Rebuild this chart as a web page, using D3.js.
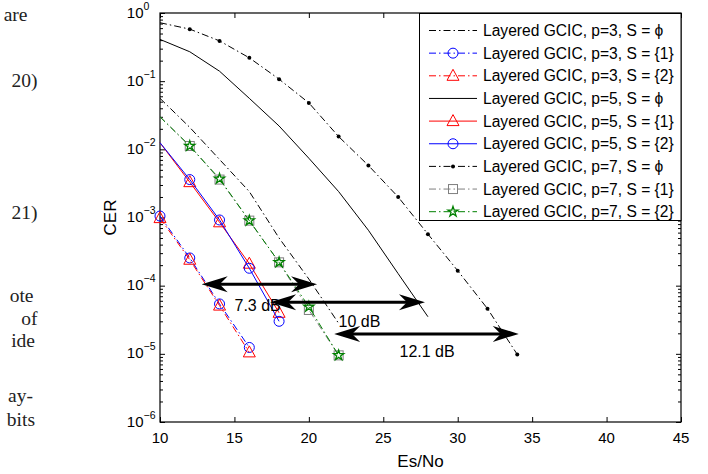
<!DOCTYPE html>
<html>
<head>
<meta charset="utf-8">
<script src="https://cdn.jsdelivr.net/npm/d3@7"></script>
<style>
  html, body { margin: 0; padding: 0; background: #fff; }
  svg { display: block; }
  .sans { font-family: "Liberation Sans", Arial, Helvetica, sans-serif; }
  .serif { font-family: "Liberation Serif", "Times New Roman", serif; fill: #222; }
</style>
</head>
<body>
<svg id="chart" width="708" height="474"></svg>
<script>
// CER vs Es/No, layered GCIC
var xTicks = [10, 15, 20, 25, 30, 35, 40, 45];
var yTickExp = [0, -1, -2, -3, -4, -5, -6];

var legendLabels = [
  'Layered GCIC, p=3, S = \u03d5',
  'Layered GCIC, p=3, S = {1}',
  'Layered GCIC, p=3, S = {2}',
  'Layered GCIC, p=5, S = \u03d5',
  'Layered GCIC, p=5, S = {1}',
  'Layered GCIC, p=5, S = {2}',
  'Layered GCIC, p=7, S = \u03d5',
  'Layered GCIC, p=7, S = {1}',
  'Layered GCIC, p=7, S = {2}'
];

var snrA = [10, 12, 14, 16];
var snrB = [10, 12, 14, 16, 18];
var snrC = [10, 12, 14, 16, 18, 20, 22];
var snrD = [10, 12, 14, 16, 18, 20, 22, 24, 26, 28];
var snrE = [10, 12, 14, 16, 18, 20, 22, 24, 26, 28, 30, 32, 34];

var p3Phi = [0.056, 0.021, 7.1e-3, 2.4e-3, 5.0e-4, 1.25e-4, 2.8e-5];
var p3S1 = [1.05e-3, 2.55e-4, 5.4e-5, 1.24e-5];
var p3S2 = [9.8e-4, 2.4e-4, 5.1e-5, 1.05e-5];
var p5Phi = [0.41, 0.27, 0.14, 0.056, 0.022, 7.4e-3, 2.4e-3, 6.5e-4, 1.5e-4, 3.5e-5];
var p5S1 = [0.0125, 3.3e-3, 8.5e-4, 2.1e-4, 4.0e-5];
var p5S2 = [0.0125, 3.6e-3, 9.2e-4, 1.8e-4, 3.0e-5];
var p7Phi = [0.72, 0.58, 0.39, 0.22, 0.107, 0.048, 0.0154, 5.8e-3, 2.0e-3, 5.7e-4, 1.66e-4, 4.6e-5, 9.8e-6];
var p7S1 = [0.030, 0.0112, 3.6e-3, 9.0e-4, 2.2e-4, 4.4e-5, 9.5e-6];
var p7S2 = [0.030, 0.0112, 3.7e-3, 9.0e-4, 2.2e-4, 4.9e-5, 9.5e-6];

// gain arrows: from, to, CER level, label
var arrowFrom = [12.8, 17.4, 21.7];
var arrowTo = [20.55, 27.8, 34.1];
var arrowCer = [1.05e-4, 5.7e-5, 1.96e-5];
var arrowLabels = ['7.3 dB', '10 dB', '12.1 dB'];

// clipped paper text on the left
var sideText = ['are', '20)', '21)', 'ote', 'of', 'ide', 'ay-', 'bits'];

var DASHDOT = '7,3,1.5,3';
var series = [
  {x: snrC, y: p3Phi, color: '#000', dash: DASHDOT, mark: null},
  {x: snrA, y: p3S1, color: '#0000ff', dash: DASHDOT, mark: 'circle'},
  {x: snrA, y: p3S2, color: '#ff0000', dash: DASHDOT, mark: 'triangle'},
  {x: snrD, y: p5Phi, color: '#000', dash: null, mark: null},
  {x: snrB, y: p5S1, color: '#ff0000', dash: null, mark: 'triangle', skip: 1},
  {x: snrB, y: p5S2, color: '#0000ff', dash: null, mark: 'circle', skip: 1},
  {x: snrE, y: p7Phi, color: '#000', dash: DASHDOT, mark: 'dot', skip: 1},
  {x: snrC, y: p7S1, color: '#7f7f7f', dash: DASHDOT, mark: 'square', skip: 1},
  {x: snrC, y: p7S2, color: '#008000', dash: DASHDOT, mark: 'star', skip: 1}
];

var L = 160, R = 681, T = 13, B = 422;
var svg = d3.select('#chart');

var x = d3.scaleLinear().domain([10, 45]).range([L, R]);
var y = d3.scaleLog().domain([1e-6, 1]).range([B, T]);

// left column text
svg.append('g').attr('class', 'serif').style('font-size', '19.5px')
  .selectAll('text').data(sideText).enter().append('text')
    .attr('x', function(d, i) { return [27.5, 37.5, 37.5, 33.5, 37.5, 35, 33, 35][i]; })
    .attr('y', function(d, i) { return [21, 87, 219, 302, 324.5, 347, 402, 426][i]; })
    .attr('text-anchor', 'end')
    .text(function(d) { return d; });

var g = svg.append('g').attr('class', 'sans');

// ticks (inward, all four sides)
var yMinor = y.ticks().filter(function(v) {
  return Math.abs(Math.log10(v) - Math.round(Math.log10(v))) > 1e-6;
});
var yMajor = yTickExp.map(function(e) { return Math.pow(10, e); });

g.append('g').attr('transform', 'translate(0,' + B + ')')
  .call(d3.axisBottom(x).tickValues(xTicks).tickSizeInner(-5).tickSizeOuter(0).tickFormat(''));
g.append('g').attr('transform', 'translate(0,' + T + ')')
  .call(d3.axisTop(x).tickValues(xTicks).tickSizeInner(-5).tickSizeOuter(0).tickFormat(''));
[[L, d3.axisLeft], [R, d3.axisRight]].forEach(function(side) {
  g.append('g').attr('transform', 'translate(' + side[0] + ',0)')
    .call(side[1](y).tickValues(yMajor).tickSizeInner(-5).tickSizeOuter(0).tickFormat(''));
  g.append('g').attr('transform', 'translate(' + side[0] + ',0)')
    .call(side[1](y).tickValues(yMinor).tickSizeInner(-3).tickSizeOuter(0).tickFormat(''));
});
g.selectAll('.domain').remove();
g.selectAll('.tick line').attr('stroke', '#000');

g.append('rect')
  .attr('x', L).attr('y', T).attr('width', R - L).attr('height', B - T)
  .attr('fill', 'none').attr('stroke', '#000').attr('stroke-width', 1.2);

// tick labels
g.selectAll('.xlab').data(xTicks).enter().append('text')
  .attr('x', function(d) { return x(d); })
  .attr('y', B + 21)
  .attr('text-anchor', 'middle')
  .style('font-size', '15px')
  .text(function(d) { return d; });

var ylab = g.selectAll('.ylab').data(yTickExp).enter().append('g');
ylab.append('text')
  .attr('x', 143.5)
  .attr('y', function(d) { return y(Math.pow(10, d)) + 4.5; })
  .attr('text-anchor', 'end')
  .style('font-size', '15px')
  .text('10');
ylab.append('text')
  .attr('x', 143.5)
  .attr('y', function(d) { return y(Math.pow(10, d)) - 3.5; })
  .style('font-size', '10.5px')
  .text(function(d) { return d === 0 ? '0' : '\u2212' + (-d); });

g.append('text')
  .attr('x', (L + R) / 2).attr('y', B + 45)
  .attr('text-anchor', 'middle')
  .style('font-size', '17px')
  .text('Es/No');
g.append('text')
  .attr('transform', 'translate(116,' + (T + B) / 2 + ') rotate(-90)')
  .attr('text-anchor', 'middle')
  .style('font-size', '17px')
  .text('CER');

// markers
function drawMark(sel, type, color) {
  if (type === 'circle') {
    sel.append('circle').attr('r', 5).attr('fill', 'none').attr('stroke', color);
  } else if (type === 'triangle') {
    sel.append('path').attr('d', 'M0,-6.5L6,4.5L-6,4.5Z').attr('fill', 'none').attr('stroke', color);
  } else if (type === 'square') {
    sel.append('rect').attr('x', -4.5).attr('y', -4.5).attr('width', 9).attr('height', 9)
      .attr('fill', 'none').attr('stroke', color);
  } else if (type === 'star') {
    sel.append('path').attr('d', d3.symbol().type(d3.symbolStar).size(32)())
      .attr('fill', 'none').attr('stroke', color).attr('stroke-width', 1.3);
  } else if (type === 'dot') {
    sel.append('circle').attr('r', 2).attr('fill', color);
  }
}

var line = d3.line()
  .x(function(d) { return x(d[0]); })
  .y(function(d) { return y(d[1]); });

series.forEach(function(s) {
  var pts = s.x.map(function(v, i) { return [v, s.y[i]]; });
  g.append('path').datum(pts)
    .attr('d', line)
    .attr('fill', 'none')
    .attr('stroke', s.color)
    .attr('stroke-width', 1)
    .attr('stroke-dasharray', s.dash);
  if (s.mark) {
    g.selectAll(null).data(pts.slice(s.skip || 0)).enter().append('g')
      .attr('transform', function(d) { return 'translate(' + x(d[0]) + ',' + y(d[1]) + ')'; })
      .call(drawMark, s.mark, s.color);
  }
});

// double arrows
function head(px, py, dir) {
  var l = 26 * dir, h = 8, n = 18 * dir;
  return 'M' + px + ',' + py + 'L' + (px + l) + ',' + (py - h) + 'L' + (px + n) + ',' + py +
    'L' + (px + l) + ',' + (py + h) + 'Z';
}
var arrows = g.selectAll('.arrow').data(arrowLabels).enter().append('g');
arrows.append('line')
  .attr('x1', function(d, i) { return x(arrowFrom[i]) + 15; })
  .attr('x2', function(d, i) { return x(arrowTo[i]) - 15; })
  .attr('y1', function(d, i) { return y(arrowCer[i]); })
  .attr('y2', function(d, i) { return y(arrowCer[i]); })
  .attr('stroke', '#000').attr('stroke-width', 3);
arrows.append('path')
  .attr('d', function(d, i) {
    var py = y(arrowCer[i]);
    return head(x(arrowFrom[i]), py, 1) + head(x(arrowTo[i]), py, -1);
  })
  .attr('fill', '#000');
arrows.append('text')
  .attr('x', function(d, i) { return [234.5, 338.5, 399.5][i]; })
  .attr('y', function(d, i) { return [310.5, 326.5, 357][i]; })
  .style('font-size', '16px')
  .text(function(d) { return d; });

// legend
var lg = g.append('g');
lg.append('rect')
  .attr('x', 419.5).attr('y', 13.5).attr('width', R - 419.5).attr('height', 207)
  .attr('fill', '#fff').attr('stroke', '#000').attr('stroke-width', 1);
var row = lg.selectAll('.row').data(series).enter().append('g')
  .attr('transform', function(d, i) { return 'translate(0,' + (30.5 + i * 22.65) + ')'; });
row.append('line')
  .attr('x1', 429).attr('x2', 477)
  .attr('stroke', function(d) { return d.color; })
  .attr('stroke-dasharray', function(d) { return d.dash; });
row.each(function(d) {
  if (d.mark) drawMark(d3.select(this).append('g').attr('transform', 'translate(453,0)'), d.mark, d.color);
});
row.append('text')
  .attr('x', 483).attr('dy', '0.36em')
  .style('font-size', '15.6px')
  .text(function(d, i) { return legendLabels[i]; });
</script>
</body>
</html>
